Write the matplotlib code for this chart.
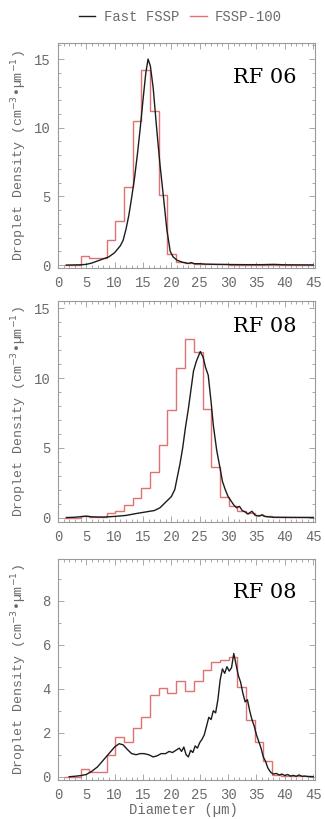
import matplotlib
matplotlib.use("Agg")
import matplotlib.pyplot as plt
from matplotlib.ticker import MultipleLocator
from matplotlib.lines import Line2D

# FSSP-100 bin edges (um), shared by all three panels
red_edges = [1.0, 4.0, 5.5, 7.1, 8.6, 10.1, 11.6, 13.2, 14.7, 16.3, 17.8, 19.3, 20.9, 22.4, 24.0,
             25.5, 27.0, 28.6, 30.1, 31.6, 33.2, 34.7, 36.2, 37.8, 39.3, 40.8, 42.4, 43.9, 45.0]

# RF 06
rf06_red = [0, 0.65, 0.55, 0.5, 1.8, 3.2, 5.7, 10.5, 14.2, 11.2, 5.1, 0.8, 0.25, 0.15,
            0.1, 0.08, 0.05, 0.05, 0.04, 0.03, 0.03, 0.02, 0.02, 0.02, 0.01, 0.01, 0.01, 0.01]
rf06_x = [1.5, 3, 4, 5, 6, 7, 8, 9, 10, 11, 11.5, 12, 12.5, 13, 13.5, 14, 14.5, 15, 15.5, 15.9,
          16.3, 16.8, 17.4, 18, 18.6, 19.2, 19.8, 20.3, 21, 22, 23, 23.5, 24, 25, 26, 28, 30,
          33, 36, 38, 40, 45]
rf06_y = [0, 0.01, 0.02, 0.05, 0.15, 0.3, 0.45, 0.6, 0.9, 1.4, 1.8, 2.6, 3.6, 4.9, 6.3, 8.0,
          9.9, 12.0, 14.0, 15.0, 14.5, 12.9, 10.0, 7.3, 5.0, 2.6, 1.0, 0.6, 0.35, 0.2, 0.12,
          0.18, 0.1, 0.1, 0.07, 0.05, 0.04, 0.03, 0.03, 0.05, 0.02, 0.01]

# RF 08 (middle)
rf08a_red = [0, 0.1, 0.05, 0.05, 0.3, 0.5, 0.9, 1.4, 2.1, 3.3, 5.2, 7.7, 10.7, 12.8, 11.9,
             7.8, 3.6, 1.5, 0.8, 0.5, 0.3, 0.15, 0.1, 0.05, 0.03, 0.02, 0.02, 0.01]
rf08a_x = [1.5, 3, 5, 6, 8, 10, 12, 14, 15.5, 17, 18, 19, 20, 20.6, 21.1, 21.5, 22, 22.5, 23,
           23.5, 23.9, 24.4, 24.8, 25.1, 25.6, 26, 26.5, 27, 27.4, 28, 28.6, 29, 29.5, 30,
           30.5, 31, 31.5, 32, 32.5, 33, 33.5, 34.2, 34.8, 35.5, 36, 36.5, 37, 38, 40, 45]
rf08a_y = [0, 0.02, 0.1, 0.05, 0.03, 0.08, 0.15, 0.3, 0.4, 0.5, 0.7, 1.1, 1.5, 2.0, 3.0, 3.8,
           5.0, 6.5, 7.8, 9.3, 10.5, 11.2, 11.6, 11.9, 11.5, 10.8, 10.2, 8.3, 6.6, 4.8, 3.5,
           2.6, 2.0, 1.5, 1.2, 0.9, 0.7, 0.8, 0.5, 0.4, 0.25, 0.45, 0.15, 0.1, 0.2, 0.08,
           0.05, 0.02, 0.01, 0]

# RF 08 (bottom)
rf08b_red = [0, 0.35, 0.2, 0.2, 1.0, 1.8, 1.6, 2.2, 2.7, 3.7, 4.05, 3.8, 4.35, 3.9, 4.35,
             4.85, 5.2, 5.3, 5.45, 4.1, 2.6, 1.6, 0.7, 0.1, 0.05, 0.03, 0.02, 0.01]
rf08b_x = [2, 3, 4, 5, 6, 7, 8, 9, 10, 10.8, 11.5, 12.2, 13, 13.8, 14.5, 15.2, 16, 16.8, 17.5,
           18.2, 19, 19.6, 20.2, 20.8, 21.4, 21.8, 22.2, 22.6, 23, 23.4, 23.8, 24.2, 24.6, 25,
           25.4, 25.8, 26.2, 26.6, 27, 27.4, 27.8, 28.2, 28.6, 29, 29.4, 29.8, 30.2, 30.6, 31,
           31.4, 31.8, 32.2, 32.6, 33, 33.4, 33.8, 34.2, 34.6, 35, 35.4, 35.8, 36.2, 36.6, 37,
           37.5, 38, 38.5, 39, 39.5, 40, 40.5, 41, 41.5, 42, 42.5, 43, 43.5, 44, 45]
rf08b_y = [0, 0.02, 0.05, 0.1, 0.25, 0.45, 0.75, 1.05, 1.35, 1.5, 1.45, 1.25, 1.05, 1.0, 1.05,
           1.05, 1.0, 0.9, 0.95, 1.05, 1.05, 1.15, 1.1, 1.2, 1.3, 1.15, 1.35, 1.0, 0.9, 1.2,
           1.1, 1.4, 1.3, 1.55, 1.7, 1.9, 2.3, 2.7, 2.6, 3.0, 2.9, 3.5, 4.4, 4.9, 4.7, 5.0,
           4.8, 4.95, 5.6, 5.1, 4.6, 4.3, 3.8, 3.4, 3.5, 3.0, 2.6, 2.3, 1.9, 1.6, 1.3, 0.9,
           0.7, 0.4, 0.2, 0.12, 0.15, 0.08, 0.12, 0.05, 0.1, 0.03, 0.06, 0.02, 0.08, 0.02,
           0.03, 0.01, 0]

panel_names = ["RF 06", "RF 08", "RF 08"]
x_ticks = [0, 5, 10, 15, 20, 25, 30, 35, 40, 45]

BLACK = "#1c1c1c"
RED = "#e07272"
GRAY = "#9a9a9a"
TXT = "#6a6a6a"
MONO = "Liberation Mono"

fig = plt.figure(figsize=(3.25, 8.19), dpi=100)

panels = [
    ([0.178, 0.673, 0.791, 0.275], rf06_x, rf06_y, rf06_red, (-0.2, 16.2), 5, 0.844),
    ([0.178, 0.363, 0.791, 0.269], rf08a_x, rf08a_y, rf08a_red, (-0.3, 15.5), 5, 0.886),
    ([0.178, 0.0476, 0.791, 0.270], rf08b_x, rf08b_y, rf08b_red, (-0.15, 9.9), 2, 0.846),
]

axes = []
for i, (pos, bx, by, red, ylim, ymaj, ty) in enumerate(panels):
    ax = fig.add_axes(pos)
    ax.stairs(red, red_edges, baseline=None, color=RED, lw=1.0)
    ax.plot(bx, by, color=BLACK, lw=1.0)
    ax.set_xlim(0, 45.3)
    ax.set_ylim(*ylim)
    ax.set_xticks(x_ticks)
    ax.xaxis.set_minor_locator(MultipleLocator(1))
    ax.yaxis.set_major_locator(MultipleLocator(ymaj))
    ax.yaxis.set_minor_locator(MultipleLocator(1))
    ax.tick_params(which="both", direction="in", top=True, right=True, colors=GRAY,
                   labelcolor=TXT, labelsize=10, width=0.6)
    ax.tick_params(which="major", length=4)
    ax.tick_params(which="minor", length=2)
    ax.tick_params(axis="x", pad=6)
    ax.tick_params(axis="y", pad=5)
    for lab in ax.get_xticklabels() + ax.get_yticklabels():
        lab.set_family(MONO)
    for s in ax.spines.values():
        s.set_color(GRAY)
        s.set_linewidth(0.8)
    ax.set_ylabel("Droplet Density (cm$^{-3}$•µm$^{-1}$)", family=MONO, fontsize=9.5,
                  color=TXT, va="center")
    ax.yaxis.set_label_coords(-0.15, 0.5)
    ax.text(0.805, ty, panel_names[i], transform=ax.transAxes, ha="center", va="center",
            fontsize=15, family="DejaVu Serif", color="black")
    axes.append(ax)

axes[2].set_xlabel("Diameter (µm)", family=MONO, fontsize=10, color=TXT, va="center")
axes[2].xaxis.set_label_coords(0.49, -0.136)

handles = [Line2D([], [], color=BLACK, lw=1.0), Line2D([], [], color=RED, lw=1.0)]
fig.legend(handles, ["Fast FSSP", "FSSP-100"], loc="center", bbox_to_anchor=(0.555, 0.979),
           ncol=2, frameon=False, handlelength=1.2, columnspacing=0.8, handletextpad=0.6,
           prop={"family": MONO, "size": 10}, labelcolor=TXT)

fig.savefig("out.png", dpi=100)
